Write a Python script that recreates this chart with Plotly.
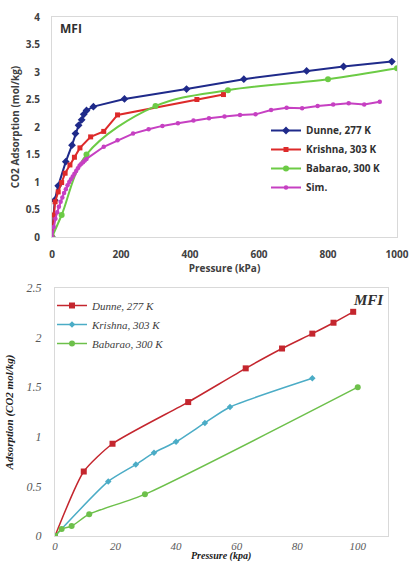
import plotly.graph_objects as go

# ---------- Top chart data (Pressure kPa, CO2 adsorption mol/kg) ----------
dunne_top_p = [0, 8, 18, 40, 58, 68, 77, 86, 92, 100, 120, 210, 390, 556, 738, 845, 985]
dunne_top_q = [0, 0.67, 0.93, 1.37, 1.67, 1.88, 2.03, 2.13, 2.23, 2.30, 2.37, 2.51, 2.69, 2.87, 3.02, 3.10, 3.19]

krishna_top_p = [0, 5, 9, 18, 28, 38, 52, 65, 81, 112, 150, 190, 420, 497]
krishna_top_q = [0, 0.40, 0.64, 0.82, 0.99, 1.16, 1.31, 1.45, 1.62, 1.82, 1.92, 2.22, 2.50, 2.59]

babarao_top_p = [0, 28, 100, 300, 510, 800, 1000]
babarao_top_q = [0, 0.40, 1.50, 2.38, 2.67, 2.87, 3.07]

sim_top_p = [0, 5, 10, 15, 20, 25, 30, 35, 40, 45, 50, 55, 60, 65, 70, 75, 80, 85, 90, 95, 100,
             150, 190, 235, 280, 320, 365, 410, 455, 500, 545, 590, 635, 680, 725, 770, 815, 860, 905, 950]
sim_top_q = [0, 0.18, 0.33, 0.45, 0.55, 0.64, 0.72, 0.80, 0.87, 0.94, 1.00, 1.05, 1.10, 1.15, 1.20,
             1.25, 1.30, 1.33, 1.36, 1.39, 1.42,
             1.64, 1.76, 1.88, 1.96, 2.02, 2.07, 2.12, 2.16, 2.19, 2.22, 2.23, 2.31, 2.35, 2.34,
             2.38, 2.41, 2.43, 2.41, 2.46]

# ---------- Bottom chart data ----------
dunne_bot_p = [0, 9.5, 19, 44, 63, 75, 85, 92, 98.5]
dunne_bot_q = [0, 0.65, 0.93, 1.35, 1.69, 1.89, 2.04, 2.15, 2.26]

krishna_bot_p = [0, 17.6, 26.7, 32.7, 40, 49.5, 57.8, 85]
krishna_bot_q = [0, 0.55, 0.72, 0.84, 0.95, 1.14, 1.30, 1.59]

babarao_bot_p = [0, 2.2, 5.5, 11.3, 29.7, 100]
babarao_bot_q = [0, 0.07, 0.10, 0.22, 0.42, 1.50]

top_x_ticks = [0, 200, 400, 600, 800, 1000]
top_y_ticks = [0, 0.5, 1, 1.5, 2, 2.5, 3, 3.5, 4]
bot_x_ticks = [0, 20, 40, 60, 80, 100]
bot_y_ticks = [0, 0.5, 1, 1.5, 2, 2.5]

W, H = 411, 563
SANS = "Open Sans"
SERIF = "Liberation Serif"

fig = go.Figure()

def top_trace(x, y, name, color, symbol, size, shape="linear"):
    fig.add_trace(go.Scatter(
        x=x, y=y, name=name, mode="lines+markers",
        line=dict(color=color, width=2, shape=shape),
        marker=dict(color=color, symbol=symbol, size=size),
        xaxis="x", yaxis="y", legend="legend"))

top_trace(dunne_top_p, dunne_top_q, "Dunne, 277 K", "#1F2A8A", "diamond", 6)
top_trace(krishna_top_p, krishna_top_q, "Krishna, 303 K", "#DD2A2A", "square", 5)
top_trace(babarao_top_p, babarao_top_q, "Babarao, 300 K", "#6CCB45", "circle", 6, "spline")
top_trace(sim_top_p, sim_top_q, "Sim.", "#C640C2", "circle", 4.5)

def bot_trace(x, y, name, color, symbol, size):
    fig.add_trace(go.Scatter(
        x=x, y=y, name=name, mode="lines+markers",
        line=dict(color=color, width=1.5, shape="spline", smoothing=0.6),
        marker=dict(color=color, symbol=symbol, size=size),
        xaxis="x2", yaxis="y2", legend="legend2"))

bot_trace(dunne_bot_p, dunne_bot_q, "Dunne, 277 K", "#C4262E", "square", 6)
bot_trace(krishna_bot_p, krishna_bot_q, "Krishna, 303 K", "#4BACC6", "diamond", 5)
bot_trace(babarao_bot_p, babarao_bot_q, "Babarao, 300 K", "#6DC04B", "circle", 6)

top_font = dict(family=SANS, size=10, color="#404040", weight="bold")
bot_tick_font = dict(family=SERIF, size=12, color="#595959", style="italic")
bot_xtick_font = dict(family=SERIF, size=11, color="#595959", style="italic")
bot_title_font = dict(family=SERIF, size=11, color="#202020", style="italic", weight="bold")
bot_xtitle_font = dict(family=SERIF, size=10, color="#202020", style="italic", weight="bold")

common = dict(showgrid=False, zeroline=False, showline=True, linecolor="#D9D9D9",
              mirror=True, ticks="", automargin=False)

fig.update_layout(
    width=W, height=H,
    margin=dict(l=0, r=0, t=0, b=0, autoexpand=False),
    paper_bgcolor="white", plot_bgcolor="white",
    xaxis=dict(domain=[52 / W, 397 / W], range=[0, 1000], tickvals=top_x_ticks,
               ticklabelstandoff=8, tickfont=top_font, anchor="y",
               title=dict(text="Pressure (kPa)", font=top_font, standoff=2), **common),
    yaxis=dict(domain=[1 - 237 / H, 1 - 17 / H], range=[0, 4], tickvals=top_y_ticks,
               ticklabelstandoff=9, tickfont=top_font, anchor="x",
               title=dict(text="CO2 Adsorption (mol/kg)", font=top_font, standoff=4), **common),
    xaxis2=dict(domain=[55 / W, 388 / W], range=[0, 110], tickvals=bot_x_ticks,
                ticklabelstandoff=0, tickfont=bot_xtick_font, anchor="y2", **common),
    yaxis2=dict(domain=[1 - 536 / H, 1 - 288 / H], range=[0, 2.5], tickvals=bot_y_ticks,
                ticklabelstandoff=10, tickfont=bot_tick_font, anchor="x2",
                title=dict(text="Adsorption (CO2 mol/kg)", font=bot_title_font, standoff=10), **common),
    legend=dict(x=266 / W, y=1 - 116 / H, xanchor="left", yanchor="top",
                bgcolor="rgba(0,0,0,0)", itemwidth=30,
                font=dict(family=SANS, size=10, color="#303030", weight="bold")),
    legend2=dict(x=52 / W, y=1 - 291 / H, xanchor="left", yanchor="top",
                 bgcolor="rgba(0,0,0,0)", itemwidth=30,
                 font=dict(family=SERIF, size=11, color="#404040", style="italic")),
    annotations=[
        dict(text="MFI", x=58 / W, y=1 - 28 / H, xref="paper", yref="paper",
             xanchor="left", yanchor="middle", showarrow=False,
             font=dict(family=SANS, size=12, color="#303030", weight="bold")),
        dict(text="MFI", x=386 / W, y=1 - 300 / H, xref="paper", yref="paper",
             xanchor="right", yanchor="middle", showarrow=False,
             font=dict(family=SERIF, size=15, color="#303030", style="italic", weight="bold")),
        dict(text="Pressure (kpa)", x=221 / W, y=0, xref="paper", yref="paper",
             xanchor="center", yanchor="bottom", showarrow=False, borderpad=0,
             font=bot_xtitle_font),
    ],
)

fig.write_html("out.html")
